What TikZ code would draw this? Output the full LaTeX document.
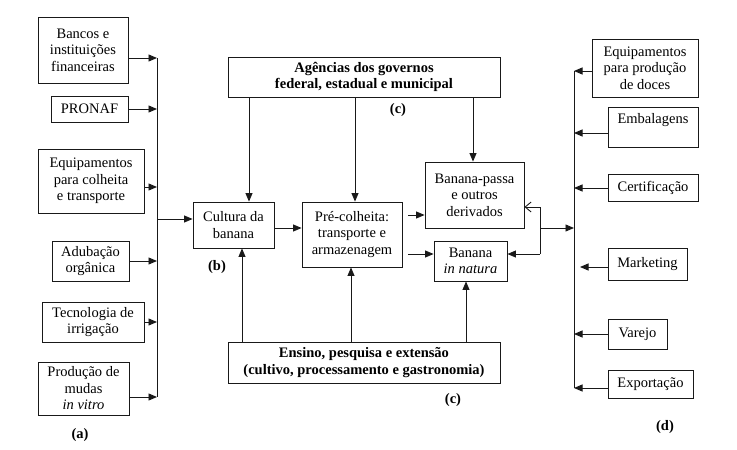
\documentclass[tikz,border=0pt]{standalone}
\usepackage{fontspec}
\setmainfont{Liberation Serif}
\usetikzlibrary{arrows.meta}
\colorlet{boxline}{black!90}

\begin{document}
\begin{tikzpicture}[x=1pt,y=-1pt,
    boxnode/.style={draw=boxline, line width=0.9pt, align=center, inner sep=0pt,
        font=\fontsize{14.5}{16.5}\selectfont},
    flowarrow/.style={boxline, line width=0.9pt, -{Triangle[length=8.5pt,width=7pt]}},
    openarrow/.style={boxline, line width=0.9pt, -{Straight Barb[length=6pt,width=10pt]}},
    tagnode/.style={inner sep=0pt, font=\fontsize{14.5}{16.5}\selectfont\bfseries}]
            \useasboundingbox (0,0) rectangle (737,450);
            % left column (a)
            \foreach \nm/\cx/\cy/\w/\h/\txt in {
                bancos/83/50/90/66/{Bancos e\\instituições\\financeiras},
                pronaf/89.5/109/77/26/{PRONAF},
                colheita/91/181/106/64/{Equipamentos\\para colheita\\e transporte},
                adubacao/90.5/261/77/40/{Adubação\\orgânica},
                irrigacao/93/322/102/40/{Tecnologia de\\irrigação},
                mudas/83.5/388.5/91/53/{Produção de\\mudas\\\textit{in vitro}}}{
                \node[boxnode, minimum width=\w pt, minimum height=\h pt] (\nm) at (\cx,\cy) {\txt};
            }
            % right column (d)
            \foreach \nm/\cx/\cy/\w/\h/\txt in {
                doces/645/68/106/58/{Equipamentos\\para produção\\de doces},
                embalagens/653/127/90/40/{Embalagens\\\mbox{}},
                certificacao/653/187.5/90/27/{Certificação},
                marketing/647.5/264/79/32/{Marketing},
                varejo/637.5/334/59/30/{Varejo},
                exportacao/650.5/384/85/28/{Exportação}}{
                \node[boxnode, minimum width=\w pt, minimum height=\h pt] (\nm) at (\cx,\cy) {\txt};
            }
            % middle
            \node[boxnode, minimum width=272pt, minimum height=40pt, font=\fontsize{14.5}{16.5}\selectfont\bfseries]
                (agencias) at (364,77) {Agências dos governos\\federal, estadual e municipal};
            \node[boxnode, minimum width=272pt, minimum height=41pt, font=\fontsize{14.5}{16.5}\selectfont\bfseries]
                (ensino) at (364,362.5) {Ensino, pesquisa e extensão\\(cultivo, processamento e gastronomia)};
            \node[boxnode, minimum width=81pt, minimum height=46pt] (cultura) at (233.5,225) {Cultura da\\banana};
            \node[boxnode, minimum width=100pt, minimum height=65pt] (pre) at (352,234.5) {Pré-colheita:\\transporte e\\armazenagem};
            \node[boxnode, minimum width=99pt, minimum height=66pt] (passa) at (474.5,195) {Banana-passa\\e outros\\derivados};
            \node[boxnode, minimum width=73pt, minimum height=40pt] (natura) at (470.5,261) {Banana\\\textit{in natura}};
            % tags
            \node[tagnode] (taga) at (80,435) {(a)};
            \node[tagnode] (tagb) at (217,267) {(b)};
            \node[tagnode] (tagc) at (398,110) {(c)};
            \node[tagnode] (tagcc) at (453,400) {(c)};
            \node[tagnode] (tagd) at (665,427) {(d)};
            % left bus
            \foreach \nm/\y in {bancos/58, pronaf/109, colheita/187, adubacao/261, irrigacao/322, mudas/397}{
                \coordinate (ba-\nm) at (157,\y);
                \draw[flowarrow] (\nm.east |- ba-\nm) -- (ba-\nm);
            }
            \draw[boxline, line width=0.9pt] (ba-bancos) -- (ba-mudas);
            \coordinate (ba-out) at (157,219);
            \draw[flowarrow] (ba-out) -- (cultura.west |- ba-out);
            % right bus
            \foreach \nm/\y/\s in {doces/71/0, embalagens/133/0, certificacao/188/0, marketing/267/6, varejo/334/0, exportacao/388/0}{
                \coordinate (bd-\nm) at (574,\y);
                \draw[flowarrow, shorten >=\s pt] (\nm.west |- bd-\nm) -- (bd-\nm);
            }
            \draw[boxline, line width=0.9pt] (bd-doces) -- (bd-exportacao);
            % from agencias and ensino
            \foreach \x/\nm in {249/cultura, 355/pre, 473/passa}{
                \coordinate (g-\nm) at (\x,0);
                \draw[flowarrow] (agencias.south -| g-\nm) -- (\nm.north -| g-\nm);
            }
            \foreach \x/\nm in {242/cultura, 351/pre, 466/natura}{
                \coordinate (e-\nm) at (\x,0);
                \draw[flowarrow] (ensino.north -| e-\nm) -- (\nm.south -| e-\nm);
            }
            % flow in the middle
            \coordinate (h1) at (0,228);
            \coordinate (h2) at (0,215);
            \coordinate (h3) at (0,254);
            \draw[flowarrow] (cultura.east |- h1) -- (pre.west |- h1);
            \draw[flowarrow, shorten <=6pt] (pre.east |- h2) -- (passa.west |- h2);
            \draw[flowarrow, shorten <=6pt] (pre.east |- h3) -- (natura.west |- h3);
            % loop to the right bus
            \coordinate (lp-top) at (540,207);
            \coordinate (lp-mid) at (540,228);
            \coordinate (lp-bot) at (540,254);
            \coordinate (bd-mid) at (574,228);
            \draw[boxline, line width=0.9pt] (lp-top) -- (lp-bot);
            \draw[flowarrow] (lp-mid) -- (bd-mid);
            \draw[openarrow] (lp-top) -- (passa.east |- lp-top);
            \draw[flowarrow] (lp-bot) -- (natura.east |- lp-bot);
        \end{tikzpicture}
\end{document}
